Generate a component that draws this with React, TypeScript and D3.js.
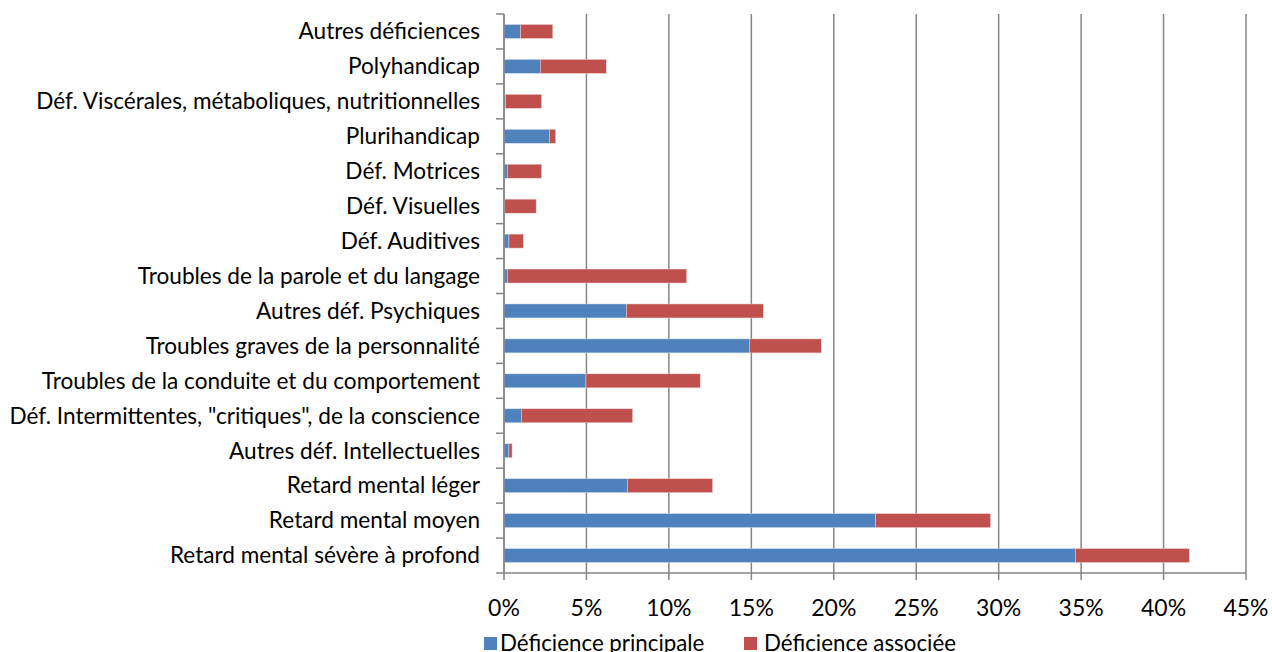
import React from "react";
import * as d3 from "d3";

const categories = [
  "Autres déficiences",
  "Polyhandicap",
  "Déf. Viscérales, métaboliques, nutritionnelles",
  "Plurihandicap",
  "Déf. Motrices",
  "Déf. Visuelles",
  "Déf. Auditives",
  "Troubles de la parole et du langage",
  "Autres déf. Psychiques",
  "Troubles graves de la personnalité",
  "Troubles de la conduite et du comportement",
  "Déf. Intermittentes, \"critiques\", de la conscience",
  "Autres déf. Intellectuelles",
  "Retard mental léger",
  "Retard mental moyen",
  "Retard mental sévère à profond",
];

const principale = [1.0, 2.2, 0.1, 2.75, 0.2, 0.05, 0.3, 0.2, 7.42, 14.88, 4.97, 1.05, 0.3, 7.48, 22.54, 34.65];
const associee = [1.96, 4.0, 2.18, 0.38, 2.08, 1.9, 0.87, 10.88, 8.31, 4.36, 6.93, 6.75, 0.19, 5.17, 6.97, 6.91];

const xTicks = [0, 5, 10, 15, 20, 25, 30, 35, 40, 45];
const seriesNames = ["Déficience principale", "Déficience associée"];
const colors = ["#4F81BD", "#C0504D"];

export default function App() {
  const W = 1272, H = 652;
  const left = 504, right = 1246, top = 14, bottom = 573;
  const x = d3.scaleLinear().domain([0, 45]).range([left, right]);
  const y = d3.scaleBand().domain(categories).range([top, bottom]).paddingInner(0.6).paddingOuter(0.3);
  const band = d3.scaleBand().domain(categories).range([top, bottom]);
  const font = "Lato, 'Open Sans', sans-serif";
  const grid = "#868686";

  return (
    <svg width={W} height={H} style={{ position: "absolute", left: 0, top: 0, background: "#fff" }}>
      {xTicks.map((t) => (
        <line key={"g" + t} x1={x(t)} x2={x(t)} y1={top} y2={bottom + 7} stroke={grid} strokeWidth={1.5} />
      ))}
      {categories.map((c, i) => {
        const yy = y(c)!;
        const h = y.bandwidth();
        return (
          <g key={c}>
            <rect x={x(0)} y={yy} width={x(principale[i]) - x(0)} height={h} fill={colors[0]} stroke="#d8e2f0" strokeWidth={0.5} />
            <rect x={x(principale[i])} y={yy} width={x(principale[i] + associee[i]) - x(principale[i])} height={h} fill={colors[1]} stroke="#f0d4d4" strokeWidth={0.5} />
          </g>
        );
      })}
      {/* y axis */}
      <line x1={left} x2={left} y1={top} y2={bottom} stroke={grid} strokeWidth={1.5} />
      {d3.range(categories.length + 1).map((i) => {
        const yy = top + (i * (bottom - top)) / categories.length;
        return <line key={"yt" + i} x1={left - 8} x2={left} y1={yy} y2={yy} stroke={grid} strokeWidth={1.5} />;
      })}
      {/* x axis */}
      <line x1={left} x2={right} y1={bottom} y2={bottom} stroke={grid} strokeWidth={1.5} />
      {categories.map((c) => (
        <text key={"l" + c} x={480} y={band(c)! + band.bandwidth() / 2 + 7.8} textAnchor="end" fontFamily={font} fontSize={22.6} fill="#000">
          {c}
        </text>
      ))}
      {xTicks.map((t) => (
        <text key={"xt" + t} x={x(t)} y={616} textAnchor="middle" fontFamily={font} fontSize={23} fill="#000">
          {t + "%"}
        </text>
      ))}
      <rect x={484} y={637} width={13} height={13} fill={colors[0]} />
      <text x={500} y={651} fontFamily={font} fontSize={22.3} fill="#000">{seriesNames[0]}</text>
      <rect x={744} y={637} width={13} height={13} fill={colors[1]} />
      <text x={764} y={651} fontFamily={font} fontSize={22.3} fill="#000">{seriesNames[1]}</text>
    </svg>
  );
}
